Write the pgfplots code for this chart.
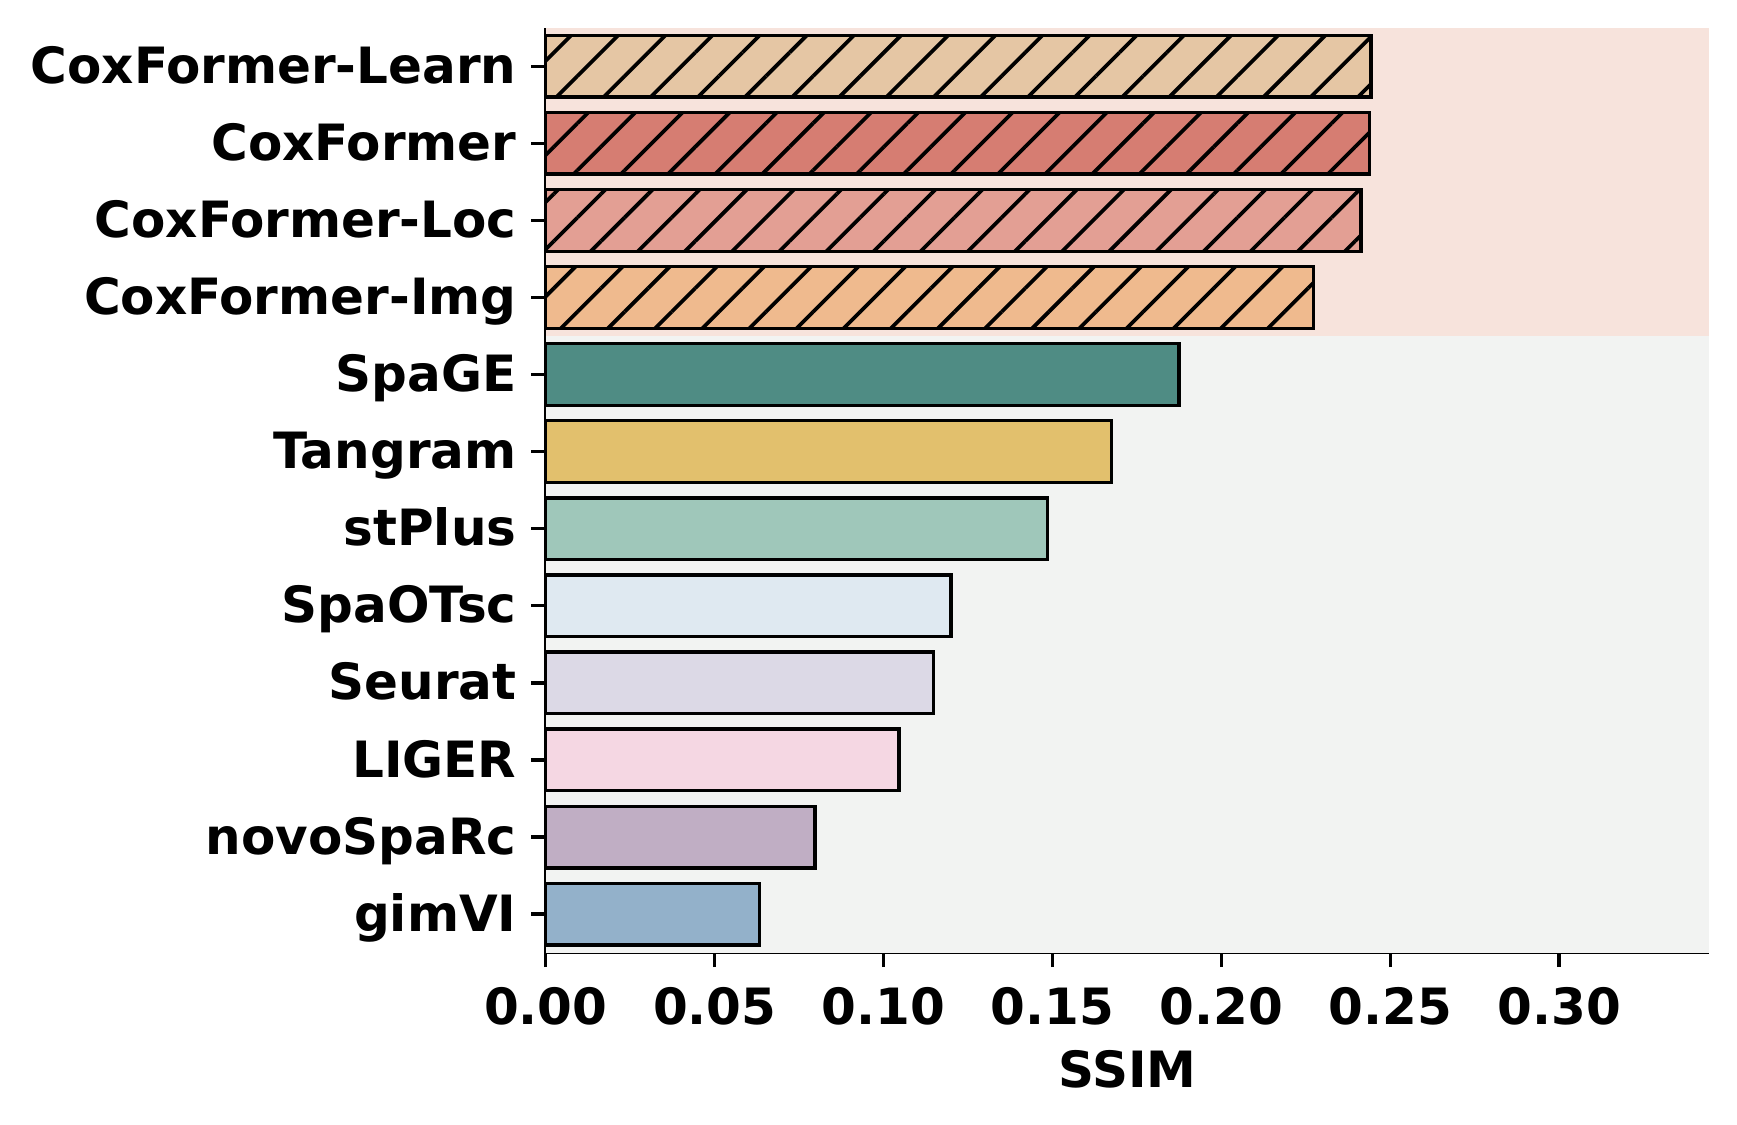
\documentclass[border=0pt]{standalone}
\usepackage{fontspec}
\setmainfont{DejaVu Sans}
\usepackage{pgfplots}
\pgfplotsset{compat=1.18}
\usetikzlibrary{patterns.meta}
\definecolor{bgpink}{HTML}{F7E3DC}
\definecolor{bggray}{HTML}{F2F3F2}
\definecolor{cLearn}{HTML}{E5C6A4}
\definecolor{cCox}{HTML}{D67D72}
\definecolor{cLoc}{HTML}{E39F94}
\definecolor{cImg}{HTML}{EFBA8E}
\definecolor{cSpaGE}{HTML}{4F8C84}
\definecolor{cTangram}{HTML}{E2C06D}
\definecolor{cstPlus}{HTML}{9FC7BA}
\definecolor{cSpaOTsc}{HTML}{DFE9F1}
\definecolor{cSeurat}{HTML}{DCD9E6}
\definecolor{cLIGER}{HTML}{F5D7E3}
\definecolor{cnovo}{HTML}{C0AEC4}
\definecolor{cgimVI}{HTML}{93B1CA}
\pgfplotsset{
  mybar/.style={xbar, bar width=0.8, bar shift=0pt, draw=black, line width=0.8pt, fill=#1},
  hatched/.style={postaction={pattern={Lines[angle=45,distance=8pt,line width=0.9pt]}, pattern color=black}},
}
\begin{document}
\begin{tikzpicture}
\begin{axis}[
  scale only axis,
  width=279.2pt, height=222pt,
  xmin=0, xmax=0.3444,
  ymin=-0.5, ymax=11.5,
  axis lines*=left,
  axis line style={line width=0.8pt},
  tick align=outside,
  major tick length=3.5pt,
  tick style={line width=0.8pt, black},
  xtick={0,0.05,0.10,0.15,0.20,0.25,0.30},
  xticklabel style={/pgf/number format/fixed, /pgf/number format/fixed zerofill, /pgf/number format/precision=2, yshift=-1.3pt},
  /pgf/number format/assume math mode=true,
  ytick={0,1,2,3,4,5,6,7,8,9,10,11},
  yticklabels={gimVI,novoSpaRc,LIGER,Seurat,SpaOTsc,stPlus,Tangram,SpaGE,CoxFormer-Img,CoxFormer-Loc,CoxFormer,CoxFormer-Learn},
  yticklabel style={text height=0.729em, text depth=0pt, yshift=-0.45pt},
  ticklabel style={font=\bfseries\fontsize{12}{14}\selectfont},
  xlabel={SSIM},
  xlabel style={font=\bfseries\fontsize{12}{14}\selectfont, yshift=0.7pt},
  scaled x ticks=false,
  clip=false,
]
\fill[bgpink] (axis cs:0,7.5) rectangle (axis cs:0.3444,11.5);
\fill[bggray] (axis cs:0,-0.5) rectangle (axis cs:0.3444,7.5);
\addplot[mybar=cLearn, hatched] coordinates {(0.2443,11)};
\addplot[mybar=cCox, hatched] coordinates {(0.2439,10)};
\addplot[mybar=cLoc, hatched] coordinates {(0.2413,9)};
\addplot[mybar=cImg, hatched] coordinates {(0.2272,8)};
\addplot[mybar=cSpaGE] coordinates {(0.1875,7)};
\addplot[mybar=cTangram] coordinates {(0.1675,6)};
\addplot[mybar=cstPlus] coordinates {(0.1485,5)};
\addplot[mybar=cSpaOTsc] coordinates {(0.1200,4)};
\addplot[mybar=cSeurat] coordinates {(0.1148,3)};
\addplot[mybar=cLIGER] coordinates {(0.1046,2)};
\addplot[mybar=cnovo] coordinates {(0.0797,1)};
\addplot[mybar=cgimVI] coordinates {(0.0633,0)};
\end{axis}
\pgfresetboundingbox
\path[use as bounding box] ([shift={(-131pt,-41.35pt)}]current axis.south west) rectangle ([shift={(6.7pt,6.65pt)}]current axis.north east);
\end{tikzpicture}
\end{document}
